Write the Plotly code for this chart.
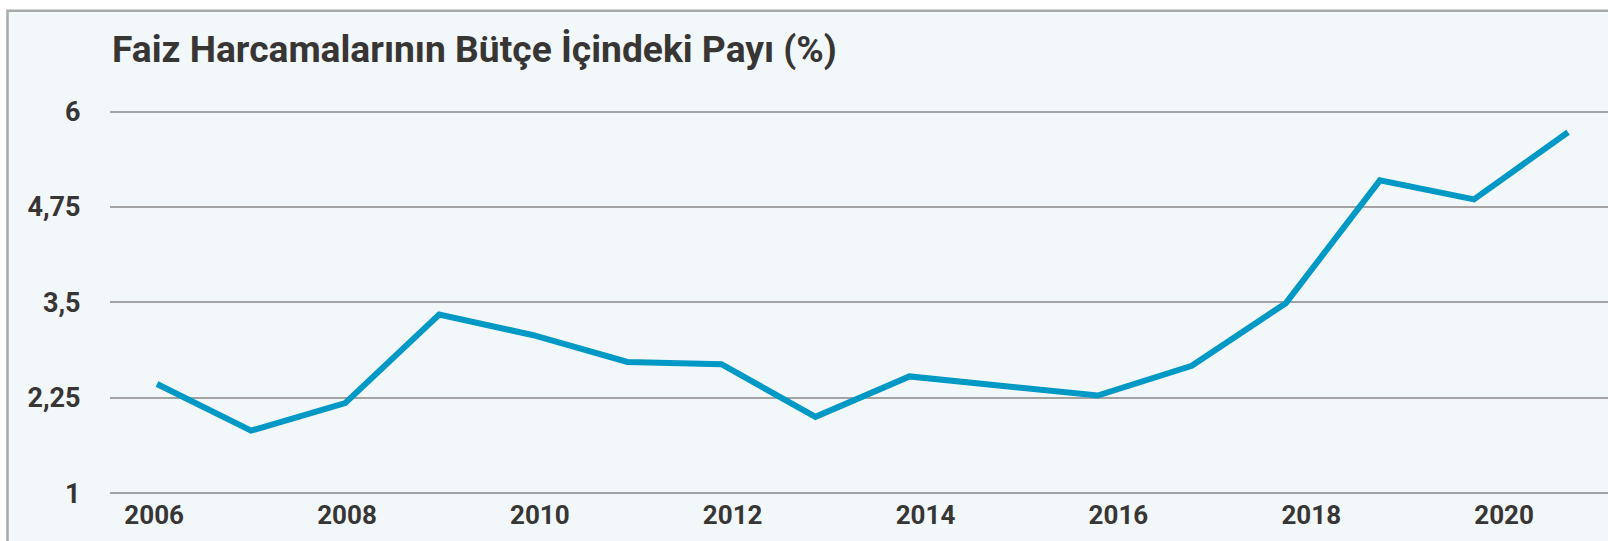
import plotly.graph_objects as go

# ---- data ----
years = list(range(2006, 2022))
share = [2.43, 1.82, 2.18, 3.34, 3.07, 2.72, 2.69, 2.00, 2.53, 2.40,
         2.28, 2.67, 3.49, 5.10, 4.85, 5.73]
x_tick_labels = ["2006", "2008", "2010", "2012", "2014", "2016", "2018", "2020"]
y_tick_values = [1, 2.25, 3.5, 4.75, 6]
y_tick_labels = ["1", "2,25", "3,5", "4,75", "6"]
title_text = "Faiz Harcamalarının Bütçe İçindeki Payı (%)"

# ---- style ----
LINE = "#0098c5"
TEXT = "#383535"
GRID = "#a3a3a3"
BG = "#f2f7fa"
FONT = "Roboto"

W, H = 1608, 541
ml, mr, mt, mb = 110, 0, 104, 44

# tick labels in the original sit slightly stretched relative to the data spacing
label_pos = [2005.97 + (int(t) - 2006) * 1.025 for t in x_tick_labels]

fig = go.Figure()
fig.add_trace(go.Scatter(
    x=years, y=share, mode="lines",
    line=dict(color=LINE, width=6), hoverinfo="skip", showlegend=False,
))

pw = W - ml - mr
ph = H - mt - mb
def px2x(px):
    return (px - ml) / pw
def py2y(py):
    return (H - mb - py) / ph

fig.update_layout(
    width=W, height=H,
    margin=dict(l=ml, r=mr, t=mt, b=mb),
    paper_bgcolor="white",
    plot_bgcolor="rgba(0,0,0,0)",
    font=dict(family=FONT, color=TEXT),
    title=dict(
        text=title_text, x=px2x(112), xref="paper", xanchor="left",
        y=1 - 49 / H, yref="container", yanchor="middle",
        font=dict(family=FONT, size=37.2, color=TEXT, weight="bold"),
    ),
    xaxis=dict(
        range=[2005.5004, 2021.425], showgrid=False, zeroline=False,
        showline=False, tickvals=label_pos, ticktext=x_tick_labels,
        tickfont=dict(family=FONT, size=26, color=TEXT, weight="bold"),
        ticks="", ticklabelstandoff=0,
        automargin=False,
    ),
    yaxis=dict(
        range=[0.95, 6.1], showgrid=True, gridcolor=GRID, gridwidth=2,
        zeroline=False, showline=False,
        tickvals=y_tick_values, ticktext=y_tick_labels,
        tickfont=dict(family=FONT, size=27, color=TEXT, weight="bold"),
        ticks="outside", ticklen=23, tickcolor="rgba(0,0,0,0)",
        automargin=False,
    ),
    shapes=[dict(
        type="rect", xref="paper", yref="paper", layer="below",
        x0=px2x(7.5), x1=px2x(W + 20), y0=py2y(H + 20), y1=py2y(10.7),
        fillcolor=BG, line=dict(color="#a9a9a9", width=2.5),
    )],
)

fig.write_html(
    "out.html",
    config={"displayModeBar": False},
    post_script="document.body.style.margin='0px';document.body.style.overflow='hidden';",
)
